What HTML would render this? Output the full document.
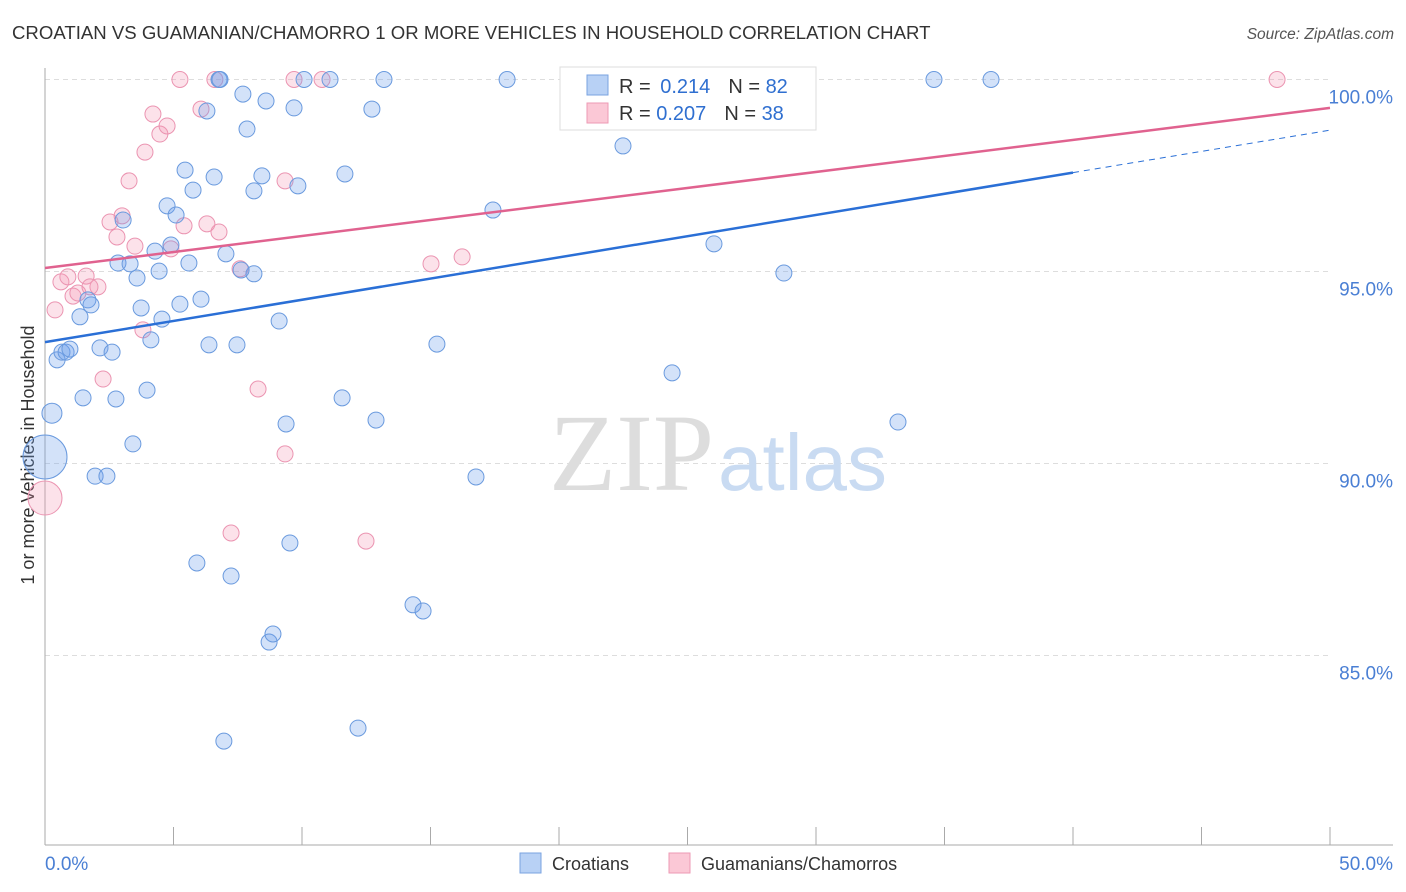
<!DOCTYPE html>
<html><head><meta charset="utf-8"><style>
body{margin:0;background:#fff;font-family:"Liberation Sans",sans-serif;}
svg{display:block}
</style></head><body>
<svg id="chart" width="1406" height="892">
<text x="12" y="39" font-size="18.6" fill="#333">CROATIAN VS GUAMANIAN/CHAMORRO 1 OR MORE VEHICLES IN HOUSEHOLD CORRELATION CHART</text>
<text x="1394" y="39" font-size="15.5" fill="#555" font-style="italic" text-anchor="end">Source: ZipAtlas.com</text>
<g id="grid"></g>
<text x="714" y="490" font-size="110" fill="#ddd" font-family="Liberation Serif,serif" text-anchor="end">ZIP</text>
<text x="718" y="490" font-size="80" fill="#c9dbf2" text-anchor="start">atlas</text>
<text transform="translate(34,455) rotate(-90)" font-size="18" fill="#333" text-anchor="middle">1 or more Vehicles in Household</text>
<g id="pts"></g>
<g id="lines"></g>
<g>
<rect x="560" y="67" width="256" height="63" fill="#fff" stroke="#ddd"/>
<rect x="587" y="75" width="21" height="20" fill="#b8d1f5" stroke="#7aa3e0"/>
<rect x="587" y="103" width="21" height="20" fill="#fbc8d6" stroke="#ee9ab4"/>
<text x="619" y="93" font-size="20" fill="#333">R = <tspan fill="#2f6fd0" dx="4">0.214</tspan><tspan dx="18">N = </tspan><tspan fill="#2f6fd0">82</tspan></text>
<text x="619" y="120" font-size="20" fill="#333">R = <tspan fill="#2f6fd0">0.207</tspan><tspan dx="18">N = </tspan><tspan fill="#2f6fd0">38</tspan></text>
</g>
<g>
<rect x="520" y="853" width="21" height="20" fill="#b8d1f5" stroke="#7aa3e0"/>
<text x="552" y="870" font-size="18" fill="#333">Croatians</text>
<rect x="669" y="853" width="21" height="20" fill="#fbc8d6" stroke="#ee9ab4"/>
<text x="701" y="870" font-size="18" fill="#333">Guamanians/Chamorros</text>
</g>
</svg>
<script>
const yTicks=[100,95,90,85];
const xTickLabels=["0.0%","50.0%"];
const blueX=[0.27,0,0.47,0.66,0.82,0.97,1.36,1.48,1.67,1.79,1.95,2.14,2.41,2.61,2.76,2.84,3.04,3.31,3.42,3.58,3.74,3.97,4.12,4.28,4.44,4.55,4.75,4.90,5.10,5.25,5.45,5.60,5.76,5.91,6.07,6.30,6.38,6.58,6.77,7.04,6.96,7.24,7.47,7.70,7.86,8.13,8.13,8.44,8.60,8.72,8.87,9.11,9.38,9.53,9.69,9.84,10.08,11.09,11.56,11.67,12.18,12.72,12.88,13.19,14.32,14.71,15.25,16.77,17.43,17.98,22.49,24.40,26.03,28.75,33.19,34.59,36.81,22.30,23.27,7.63,6.81];
const blueY=[91.31,90.17,92.70,92.90,92.90,92.98,93.82,91.71,94.26,94.13,89.67,93.01,89.67,92.90,91.68,95.22,96.34,95.20,90.51,94.83,94.05,91.91,93.22,95.53,95.01,93.76,96.71,95.69,96.47,94.15,97.64,95.22,97.12,87.41,94.28,99.18,93.09,97.46,100,95.46,82.77,87.07,93.09,99.62,98.71,97.10,94.94,97.49,99.44,85.35,85.56,93.71,91.03,87.93,99.26,97.23,100,100,91.71,97.54,83.11,99.23,91.13,100,86.32,86.16,93.11,89.65,96.60,100,98.27,92.36,95.72,94.96,91.08,100,100,100,100,95.04,100];
const blueR=[10,22];
const pinkX=[0,0.39,0.62,0.89,1.09,1.28,1.60,2.06,2.26,2.53,2.80,3.00,3.27,3.50,3.81,3.89,4.20,4.47,4.75,4.90,5.25,5.41,6.07,6.30,6.61,6.77,7.24,7.59,8.29,9.34,9.34,9.69,10.78,12.49,15.02,16.23,47.94,1.75];
const pinkY=[89.10,94.00,94.73,94.86,94.36,94.44,94.88,94.60,92.20,96.29,95.90,96.45,97.36,95.66,93.48,98.11,99.10,98.58,98.79,95.59,100,96.19,99.23,96.24,100,96.03,88.19,95.07,91.94,97.36,90.25,100,100,87.98,95.20,95.38,100,94.60];
const pinkR=[17];
const blueTrend=[93.16,98.68];
const pinkTrend=[95.09,99.26];
const NS="http://www.w3.org/2000/svg";
const X=v=>45+v*25.7, Y=v=>79.5+(100-v)*38.4;
function mk(t,a,p){const e=document.createElementNS(NS,t);for(const k in a)e.setAttribute(k,a[k]);p.appendChild(e);return e;}
const g=document.getElementById('grid');
yTicks.forEach(t=>{
 const l=mk('line',{x1:45,x2:1330,y1:Y(t),y2:Y(t),stroke:'#ddd','stroke-dasharray':'5,4'},g);
 
 
 const tx=mk('text',{x:1393,y:Y(t)+24,'font-size':19,fill:'#4a7fd4','text-anchor':'end'},g);
 tx.textContent=t.toFixed(1)+'%';
 
 
});
const ax=mk('line',{x1:45,x2:45,y1:68,y2:845,stroke:'#aaa'},g);


const bx=mk('line',{x1:45,x2:1393,y1:845,y2:845,stroke:'#aaa'},g);


for(let i=0;i<=10;i++){const t=mk('line',{x1:X(i*5),x2:X(i*5),y1:827,y2:845,stroke:'#aaa'},g);
 
 }
[[0,'start',45],[50,'end',1393]].forEach((d,i)=>{const t=mk('text',{x:d[2],y:870,'font-size':19,fill:'#4a7fd4','text-anchor':d[1]},g);t.textContent=xTickLabels[i];
 
 });
const P=document.getElementById('pts');
pinkX.forEach((x,i)=>{const c=mk('circle',{cx:X(x),cy:Y(pinkY[i]),r:i==0?pinkR[0]:8,fill:'rgba(245,150,180,0.28)',stroke:'#eb94b1','stroke-width':1},P);
 
 });
blueX.forEach((x,i)=>{const c=mk('circle',{cx:X(x),cy:Y(blueY[i]),r:i<2?blueR[i]:8,fill:'rgba(110,160,235,0.3)',stroke:'#6a9ade','stroke-width':1},P);
 
 });
const L=document.getElementById('lines');
const by=x=>blueTrend[0]+(blueTrend[1]-blueTrend[0])*x/50;
let l1=mk('line',{x1:X(0),y1:Y(by(0)),x2:X(40),y2:Y(by(40)),stroke:'#2a6fd6','stroke-width':2.5},L);


let l2=mk('line',{x1:X(40),y1:Y(by(40)),x2:X(50),y2:Y(by(50)),stroke:'#2a6fd6','stroke-width':1,'stroke-dasharray':'6,5'},L);


let l3=mk('line',{x1:X(0),y1:Y(pinkTrend[0]),x2:X(50),y2:Y(pinkTrend[1]),stroke:'#e0628f','stroke-width':2.5},L);


</script>
</body></html>
